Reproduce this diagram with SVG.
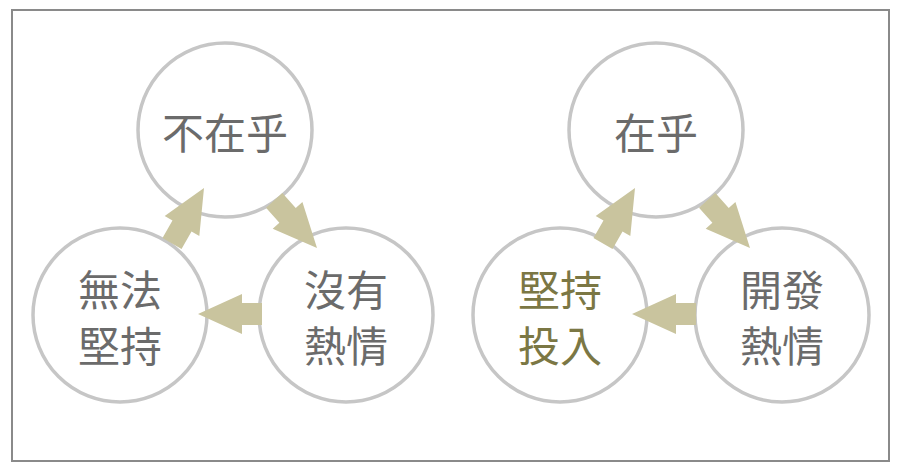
<svg xmlns="http://www.w3.org/2000/svg" width="900" height="471" viewBox="0 0 900 471">
<style>
.c{fill:#fff;stroke:#c6c6c6;stroke-width:3.5}
.t{font-family:"Noto Sans CJK TC","Noto Sans CJK SC",sans-serif;font-size:42px;fill:#6b6b6b;text-anchor:middle;dominant-baseline:central}
.o{fill:#7b7744}
.a{fill:#c9c49e}
</style>
<defs><path id="ar" d="M0,0 L-44,-20 V-11 H-64 V11 H-44 V20 Z"/></defs>
<rect width="900" height="471" fill="#fff"/>
<rect x="12" y="10" width="877" height="451" fill="none" stroke="#8a8a8a" stroke-width="2"/>
<g id="n1"><circle class="c" cx="225" cy="130" r="87"/><text class="t" x="225" y="130">不在乎</text></g>
<g id="n2"><circle class="c" cx="120" cy="315" r="87"/><text class="t" x="120" y="287">無法</text><text class="t" x="120" y="343">堅持</text></g>
<g id="n3"><circle class="c" cx="346" cy="315" r="87"/><text class="t" x="346" y="287">沒有</text><text class="t" x="346" y="343">熱情</text></g>
<g id="n4"><circle class="c" cx="656" cy="130" r="87"/><text class="t" x="656" y="130">在乎</text></g>
<g id="n5"><circle class="c" cx="560" cy="315" r="87"/><text class="t o" x="560" y="287">堅持</text><text class="t o" x="560" y="343">投入</text></g>
<g id="n6"><circle class="c" cx="782" cy="315" r="87"/><text class="t" x="782" y="287">開發</text><text class="t" x="782" y="343">熱情</text></g>
<g id="connectors">
<use href="#ar" class="a" transform="translate(198,314) rotate(180)"/>
<use href="#ar" class="a" transform="translate(204,188) rotate(-60)"/>
<use href="#ar" class="a" transform="translate(317,248) rotate(48)"/>
<use href="#ar" class="a" transform="translate(632,314) rotate(180)"/>
<use href="#ar" class="a" transform="translate(635,188) rotate(-60)"/>
<use href="#ar" class="a" transform="translate(750,248) rotate(48)"/>
</g>
</svg>
